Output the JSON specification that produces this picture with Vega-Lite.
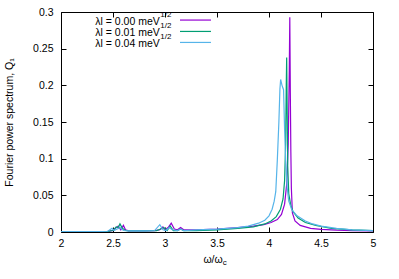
{
  "$schema": "https://vega.github.io/schema/vega-lite/v6.json",
  "autosize": {"type": "none"},
  "padding": {"left": 61, "top": 12, "right": 26, "bottom": 47},
  "width": 312,
  "height": 220,
  "background": "white",
  "config": {
    "view": {"stroke": "black", "strokeWidth": 1},
    "font": "Liberation Sans",
    "axis": {"labelFont": "Liberation Sans", "titleFont": "Liberation Sans", "labelFontSize": 10.5, "titleFontSize": 10.5, "labelColor": "black", "titleColor": "black", "titleFontWeight": "normal", "grid": false, "domain": false, "tickColor": "black", "tickSize": -5, "ticks": true}
  },
  "datasets": {
    "curves": [
      {"s": "a", "x": 2.0, "y": 0.0005}, {"s": "a", "x": 2.3, "y": 0.0005}, {"s": "a", "x": 2.45, "y": 0.0008}, {"s": "a", "x": 2.5, "y": 0.002}, {"s": "a", "x": 2.53, "y": 0.006}, {"s": "a", "x": 2.55, "y": 0.008}, {"s": "a", "x": 2.575, "y": 0.003}, {"s": "a", "x": 2.6, "y": 0.009}, {"s": "a", "x": 2.62, "y": 0.003}, {"s": "a", "x": 2.65, "y": 0.0015}, {"s": "a", "x": 2.8, "y": 0.0015}, {"s": "a", "x": 2.9, "y": 0.002}, {"s": "a", "x": 2.95, "y": 0.003}, {"s": "a", "x": 2.98, "y": 0.007}, {"s": "a", "x": 3.0, "y": 0.003}, {"s": "a", "x": 3.03, "y": 0.006}, {"s": "a", "x": 3.06, "y": 0.012}, {"s": "a", "x": 3.09, "y": 0.004}, {"s": "a", "x": 3.12, "y": 0.003}, {"s": "a", "x": 3.15, "y": 0.006}, {"s": "a", "x": 3.18, "y": 0.003}, {"s": "a", "x": 3.3, "y": 0.003}, {"s": "a", "x": 3.5, "y": 0.004}, {"s": "a", "x": 3.7, "y": 0.006}, {"s": "a", "x": 3.85, "y": 0.008}, {"s": "a", "x": 3.95, "y": 0.01}, {"s": "a", "x": 4.02, "y": 0.013}, {"s": "a", "x": 4.08, "y": 0.017}, {"s": "a", "x": 4.12, "y": 0.024}, {"s": "a", "x": 4.15, "y": 0.038}, {"s": "a", "x": 4.17, "y": 0.065}, {"s": "a", "x": 4.185, "y": 0.12}, {"s": "a", "x": 4.195, "y": 0.22}, {"s": "a", "x": 4.2, "y": 0.293}, {"s": "a", "x": 4.205, "y": 0.19}, {"s": "a", "x": 4.21, "y": 0.11}, {"s": "a", "x": 4.215, "y": 0.06}, {"s": "a", "x": 4.225, "y": 0.026}, {"s": "a", "x": 4.25, "y": 0.015}, {"s": "a", "x": 4.3, "y": 0.009}, {"s": "a", "x": 4.4, "y": 0.005}, {"s": "a", "x": 4.5, "y": 0.0035}, {"s": "a", "x": 4.65, "y": 0.0025}, {"s": "a", "x": 4.8, "y": 0.002}, {"s": "a", "x": 5.0, "y": 0.0015},

      {"s": "b", "x": 2.0, "y": 0.0005}, {"s": "b", "x": 2.3, "y": 0.0005}, {"s": "b", "x": 2.45, "y": 0.0008}, {"s": "b", "x": 2.5, "y": 0.002}, {"s": "b", "x": 2.53, "y": 0.007}, {"s": "b", "x": 2.55, "y": 0.006}, {"s": "b", "x": 2.567, "y": 0.011}, {"s": "b", "x": 2.59, "y": 0.005}, {"s": "b", "x": 2.62, "y": 0.002}, {"s": "b", "x": 2.65, "y": 0.0015}, {"s": "b", "x": 2.8, "y": 0.0015}, {"s": "b", "x": 2.92, "y": 0.002}, {"s": "b", "x": 2.96, "y": 0.004}, {"s": "b", "x": 2.99, "y": 0.006}, {"s": "b", "x": 3.02, "y": 0.002}, {"s": "b", "x": 3.05, "y": 0.008}, {"s": "b", "x": 3.08, "y": 0.002}, {"s": "b", "x": 3.12, "y": 0.002}, {"s": "b", "x": 3.15, "y": 0.004}, {"s": "b", "x": 3.18, "y": 0.002}, {"s": "b", "x": 3.3, "y": 0.002}, {"s": "b", "x": 3.5, "y": 0.003}, {"s": "b", "x": 3.7, "y": 0.005}, {"s": "b", "x": 3.85, "y": 0.007}, {"s": "b", "x": 3.96, "y": 0.011}, {"s": "b", "x": 4.02, "y": 0.015}, {"s": "b", "x": 4.07, "y": 0.021}, {"s": "b", "x": 4.11, "y": 0.031}, {"s": "b", "x": 4.135, "y": 0.045}, {"s": "b", "x": 4.15, "y": 0.07}, {"s": "b", "x": 4.16, "y": 0.12}, {"s": "b", "x": 4.166, "y": 0.2}, {"s": "b", "x": 4.17, "y": 0.238}, {"s": "b", "x": 4.175, "y": 0.16}, {"s": "b", "x": 4.18, "y": 0.09}, {"s": "b", "x": 4.19, "y": 0.052}, {"s": "b", "x": 4.21, "y": 0.036}, {"s": "b", "x": 4.23, "y": 0.028}, {"s": "b", "x": 4.28, "y": 0.019}, {"s": "b", "x": 4.35, "y": 0.013}, {"s": "b", "x": 4.45, "y": 0.009}, {"s": "b", "x": 4.6, "y": 0.005}, {"s": "b", "x": 4.8, "y": 0.003}, {"s": "b", "x": 5.0, "y": 0.002},

      {"s": "c", "x": 2.0, "y": 0.0005}, {"s": "c", "x": 2.3, "y": 0.0005}, {"s": "c", "x": 2.45, "y": 0.001}, {"s": "c", "x": 2.49, "y": 0.005}, {"s": "c", "x": 2.51, "y": 0.002}, {"s": "c", "x": 2.54, "y": 0.004}, {"s": "c", "x": 2.57, "y": 0.006}, {"s": "c", "x": 2.6, "y": 0.002}, {"s": "c", "x": 2.65, "y": 0.0015}, {"s": "c", "x": 2.8, "y": 0.0015}, {"s": "c", "x": 2.9, "y": 0.002}, {"s": "c", "x": 2.95, "y": 0.01}, {"s": "c", "x": 2.98, "y": 0.003}, {"s": "c", "x": 3.01, "y": 0.002}, {"s": "c", "x": 3.04, "y": 0.006}, {"s": "c", "x": 3.07, "y": 0.003}, {"s": "c", "x": 3.12, "y": 0.002}, {"s": "c", "x": 3.15, "y": 0.004}, {"s": "c", "x": 3.18, "y": 0.002}, {"s": "c", "x": 3.3, "y": 0.003}, {"s": "c", "x": 3.5, "y": 0.004}, {"s": "c", "x": 3.7, "y": 0.006}, {"s": "c", "x": 3.8, "y": 0.008}, {"s": "c", "x": 3.9, "y": 0.012}, {"s": "c", "x": 3.96, "y": 0.016}, {"s": "c", "x": 4.0, "y": 0.022}, {"s": "c", "x": 4.03, "y": 0.031}, {"s": "c", "x": 4.05, "y": 0.042}, {"s": "c", "x": 4.065, "y": 0.055}, {"s": "c", "x": 4.08, "y": 0.098}, {"s": "c", "x": 4.095, "y": 0.15}, {"s": "c", "x": 4.105, "y": 0.195}, {"s": "c", "x": 4.112, "y": 0.208}, {"s": "c", "x": 4.125, "y": 0.2}, {"s": "c", "x": 4.14, "y": 0.194}, {"s": "c", "x": 4.15, "y": 0.14}, {"s": "c", "x": 4.16, "y": 0.098}, {"s": "c", "x": 4.175, "y": 0.06}, {"s": "c", "x": 4.19, "y": 0.042}, {"s": "c", "x": 4.22, "y": 0.03}, {"s": "c", "x": 4.27, "y": 0.022}, {"s": "c", "x": 4.35, "y": 0.015}, {"s": "c", "x": 4.42, "y": 0.011}, {"s": "c", "x": 4.5, "y": 0.008}, {"s": "c", "x": 4.65, "y": 0.005}, {"s": "c", "x": 4.8, "y": 0.003}, {"s": "c", "x": 5.0, "y": 0.002}
    ],
    "legend": [
      {"s": "a", "label": "λl = 0.00 meV", "sup": "1/2", "tx": 2.95, "x1": 3.144, "x2": 3.442, "y": 0.289},
      {"s": "b", "label": "λl = 0.01 meV", "sup": "1/2", "tx": 2.95, "x1": 3.144, "x2": 3.442, "y": 0.2735},
      {"s": "c", "label": "λl = 0.04 meV", "sup": "1/2", "tx": 2.95, "x1": 3.144, "x2": 3.442, "y": 0.2585}
    ],
    "xtitle": [
      {"x": 3.555, "y": -0.038, "main": "ω/ω", "sub": "c"}
    ]
  },
  "layer": [
    {
      "data": {"name": "curves"},
      "mark": {"type": "line", "strokeWidth": 1.2, "clip": true},
      "encoding": {
        "x": {"field": "x", "type": "quantitative", "scale": {"domain": [2, 5], "nice": false, "zero": false},
              "axis": {"orient": "bottom", "values": [2, 2.5, 3, 3.5, 4, 4.5, 5], "format": "~g", "title": null, "labelPadding": 11, "labelFlush": false}},
        "y": {"field": "y", "type": "quantitative", "scale": {"domain": [0, 0.3], "nice": false},
              "axis": {"orient": "left", "values": [0, 0.05, 0.1, 0.15, 0.2, 0.25, 0.3], "format": "~g", "title": "Fourier power spectrum, Q₁", "titlePadding": 18, "labelPadding": 13, "labelFlush": false}},
        "color": {"field": "s", "type": "nominal", "scale": {"domain": ["a", "b", "c"], "range": ["#9400d3", "#009e73", "#56b4e9"]}, "legend": null}
      }
    },
    {
      "data": {"name": "legend"},
      "mark": {"type": "rule", "strokeWidth": 1.2},
      "encoding": {
        "x": {"field": "x1", "type": "quantitative", "axis": {"orient": "top", "values": [2, 2.5, 3, 3.5, 4, 4.5, 5], "labels": false, "title": null}},
        "x2": {"field": "x2"},
        "y": {"field": "y", "type": "quantitative", "axis": {"orient": "right", "values": [0, 0.05, 0.1, 0.15, 0.2, 0.25, 0.3], "labels": false, "title": null}},
        "color": {"field": "s", "type": "nominal", "legend": null}
      }
    },
    {
      "data": {"name": "legend"},
      "mark": {"type": "text", "align": "right", "baseline": "middle", "fontSize": 10.5, "font": "Liberation Sans", "dy": 2, "color": "black"},
      "encoding": {
        "x": {"field": "tx", "type": "quantitative", "axis": null},
        "y": {"field": "y", "type": "quantitative", "axis": null},
        "text": {"field": "label"}
      }
    },
    {
      "data": {"name": "legend"},
      "mark": {"type": "text", "align": "left", "baseline": "middle", "fontSize": 8, "font": "Liberation Sans", "dy": -5, "dx": 0.5, "color": "black"},
      "encoding": {
        "x": {"field": "tx", "type": "quantitative", "axis": null},
        "y": {"field": "y", "type": "quantitative", "axis": null},
        "text": {"field": "sup"}
      }
    },
    {
      "data": {"name": "xtitle"},
      "mark": {"type": "text", "align": "right", "baseline": "middle", "fontSize": 10.5, "font": "Liberation Sans", "color": "black", "clip": false},
      "encoding": {
        "x": {"field": "x", "type": "quantitative", "axis": null},
        "y": {"field": "y", "type": "quantitative", "axis": null},
        "text": {"field": "main"}
      }
    },
    {
      "data": {"name": "xtitle"},
      "mark": {"type": "text", "align": "left", "baseline": "middle", "fontSize": 8, "font": "Liberation Sans", "color": "black", "dy": 3, "clip": false},
      "encoding": {
        "x": {"field": "x", "type": "quantitative", "axis": null},
        "y": {"field": "y", "type": "quantitative", "axis": null},
        "text": {"field": "sub"}
      }
    }
  ],
  "resolve": {"axis": {"x": "independent", "y": "independent"}}
}
